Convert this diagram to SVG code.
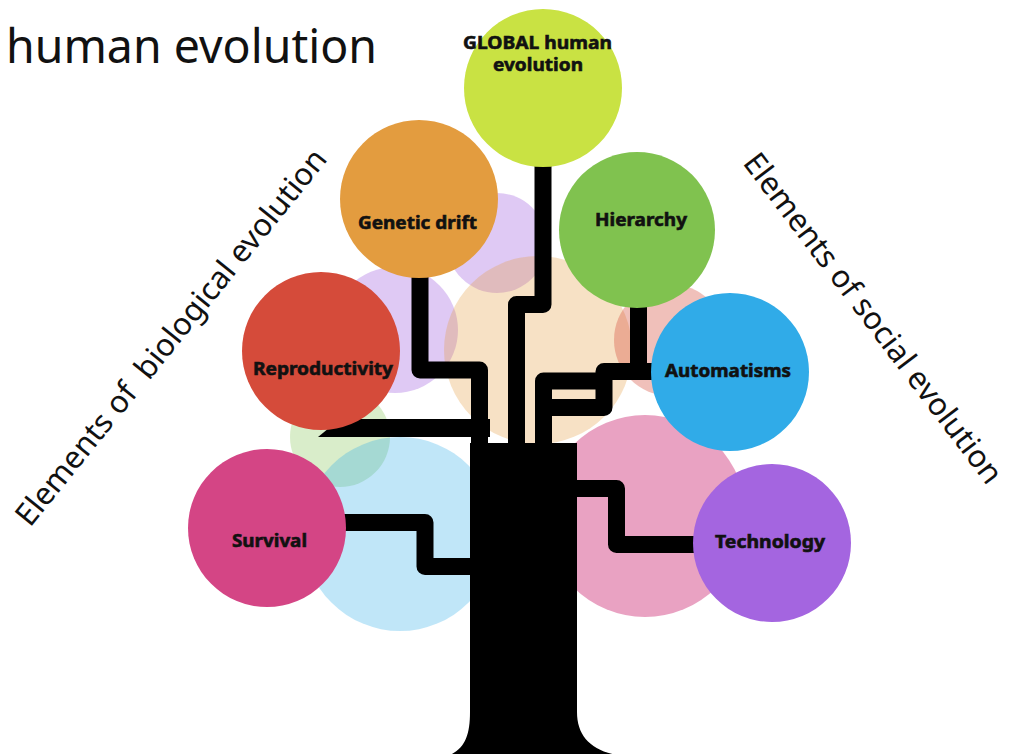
<svg xmlns="http://www.w3.org/2000/svg" width="1014" height="754" viewBox="0 0 1014 754">
<style>
.pale{stroke:none}
.br{fill:none;stroke:#000;stroke-width:17;stroke-linejoin:round}
.lbl{font-family:"Noto Sans","Liberation Sans",sans-serif;font-weight:700;font-size:18px;fill:#111;stroke:#111;stroke-width:0.6px}
.side{font-family:"Noto Sans","Liberation Sans",sans-serif;font-size:31px;fill:#111}
</style>
<rect width="1014" height="754" fill="#fff"/>
<text x="6" y="63" font-family="Noto Sans, Liberation Sans, sans-serif" font-size="48" fill="#111" textLength="371" lengthAdjust="spacingAndGlyphs">human evolution</text>
<text class="side" transform="translate(30,528) rotate(-51)" textLength="474" lengthAdjust="spacingAndGlyphs" xml:space="preserve">Elements of  biological evolution</text>
<text class="side" transform="translate(742,163) rotate(52.8)" textLength="406" lengthAdjust="spacingAndGlyphs">Elements of social evolution</text>
<g id="background">
<circle class="pale" cx="497" cy="243" r="50" fill="#a465e0" opacity="0.35"/>
<circle class="pale" cx="395" cy="330" r="63" fill="#a465e0" opacity="0.35"/>
<circle class="pale" cx="538" cy="350" r="94" fill="#e39c3f" opacity="0.3"/>
<circle class="pale" cx="670" cy="340" r="56" fill="#d54b3a" opacity="0.35"/>
<circle class="pale" cx="340" cy="437" r="50" fill="#80c24f" opacity="0.3"/>
<circle class="pale" cx="400" cy="534" r="97" fill="#30abe8" opacity="0.3"/>
<circle class="pale" cx="645" cy="516" r="101" fill="#d44585" opacity="0.5"/>
</g>
<g id="connectors">
<path d="M470,443 H577 V712 C577,735 590,750 617,755 H450 C465,748 470,735 470,712 Z" fill="#000"/>
<polygon points="318,437 340,419 490,419 490,437" fill="#000"/>
<path class="br" d="M420,270 V370 H479.5 V450"/>
<path class="br" d="M543,160 V304.5 H516.5 V450"/>
<path class="br" d="M638.5,300 V380"/>
<path class="br" d="M660,371.5 H604 V407.5 H548"/>
<path class="br" d="M604,381 H543.5 V450"/>
<path class="br" d="M570,488.5 H616.5 V544.5 H700"/>
<path class="br" d="M340,522.5 H425 V566.5 H475"/>
</g>
<g id="n-global"><circle cx="543" cy="88" r="79" fill="#c9e243"/>
<text class="lbl" x="463" y="49" font-size="18" textLength="149" lengthAdjust="spacingAndGlyphs">GLOBAL human</text>
<text class="lbl" x="493" y="71" font-size="18" textLength="90" lengthAdjust="spacingAndGlyphs">evolution</text></g>
<g id="n-genetic"><circle cx="419" cy="199" r="79" fill="#e39c3f"/>
<text class="lbl" x="358" y="229" textLength="119" lengthAdjust="spacingAndGlyphs">Genetic drift</text></g>
<g id="n-hierarchy"><circle cx="637" cy="230" r="78" fill="#80c24f"/>
<text class="lbl" x="595" y="226" textLength="92" lengthAdjust="spacingAndGlyphs">Hierarchy</text></g>
<g id="n-reproductivity"><circle cx="321" cy="351" r="79" fill="#d54b3a"/>
<text class="lbl" x="253" y="375" textLength="140" lengthAdjust="spacingAndGlyphs">Reproductivity</text></g>
<g id="n-automatisms"><circle cx="730" cy="372" r="79" fill="#30abe8"/>
<text class="lbl" x="665" y="377" textLength="126" lengthAdjust="spacingAndGlyphs">Automatisms</text></g>
<g id="n-survival"><circle cx="267" cy="528" r="79" fill="#d44585"/>
<text class="lbl" x="232" y="547" textLength="75" lengthAdjust="spacingAndGlyphs">Survival</text></g>
<g id="n-technology"><circle cx="772" cy="543" r="79" fill="#a465e0"/>
<text class="lbl" x="715" y="548" textLength="110" lengthAdjust="spacingAndGlyphs">Technology</text></g>
</svg>
